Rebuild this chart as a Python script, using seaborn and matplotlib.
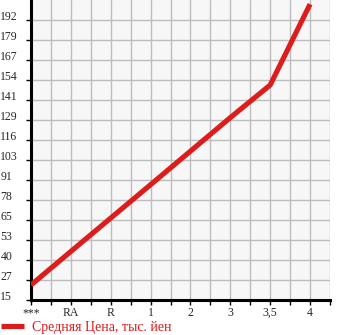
import matplotlib
matplotlib.use("Agg")
import matplotlib.pyplot as plt
import seaborn as sns
import pandas as pd
import numpy as np

categories = ["***", "RA", "R", "1", "2", "3", "3,5", "4"]
avg_price = [24.5, 45.7, 66.8, 87.9, 109.1, 130.3, 150.9, 202.0]
ytick_values = [15, 27.64, 40.29, 52.93, 65.57, 78.21, 90.86, 103.5, 116.14, 128.79, 141.43, 154.07, 166.71, 179.36, 192.0]
ytick_labels = ["15", "27", "40", "53", "65", "78", "91", "103", "116", "129", "141", "154", "167", "179", "192"]
series_label = "Средняя Цена, тыс. йен"

sns.set_theme(style="white")
plt.rcParams["font.family"] = ["Liberation Serif", "DejaVu Serif"]

df = pd.DataFrame({"pos": np.arange(len(categories)), "price": avg_price})

fig = plt.figure(figsize=(3.45, 3.35), dpi=100)
ax = fig.add_axes([31/345, 35/335, 299/345, 300/335])
ax.set_facecolor("#f7f7f7")

sns.lineplot(data=df, x="pos", y="price", ax=ax, color="#dd1c1c", linewidth=3.7,
             label=series_label, solid_capstyle="butt", zorder=3)

ax.set_xlim(0, 7.5)
ax.set_ylim(15, 204.64)

xt = np.arange(0, 7.51, 0.5)
ax.set_xticks(xt)
xl = []
for v in xt:
    if abs(v - round(v)) < 1e-9 and int(round(v)) < len(categories):
        xl.append(categories[int(round(v))])
    else:
        xl.append("")
ax.set_xticklabels(xl, fontsize=8.5)
ax.set_yticks(ytick_values)
ax.set_yticklabels(ytick_labels, fontsize=8.5, ha="left", va="baseline")
ax.tick_params(axis="y", length=3.6, width=1, color="black", pad=18.4, direction="out")
ax.tick_params(axis="x", length=3.6, width=1, color="black", pad=1.5, direction="out")
ax.tick_params(left=True, bottom=True)

ax.grid(True, color="#bdbdbd", linewidth=1)
ax.set_axisbelow(True)
for s in ["top", "right"]:
    ax.spines[s].set_visible(False)
for s in ["left", "bottom"]:
    ax.spines[s].set_color("black")
    ax.spines[s].set_linewidth(2.2)
ax.set_xlabel("")
ax.set_ylabel("")

leg = ax.legend(loc="lower left", bbox_to_anchor=(0, 0), bbox_transform=fig.transFigure,
                frameon=False, fontsize=10, handlelength=1.6, handletextpad=0.6,
                borderaxespad=0.0, borderpad=0.1, labelcolor="#dd1c1c")

fig.savefig("out.png", dpi=100)
